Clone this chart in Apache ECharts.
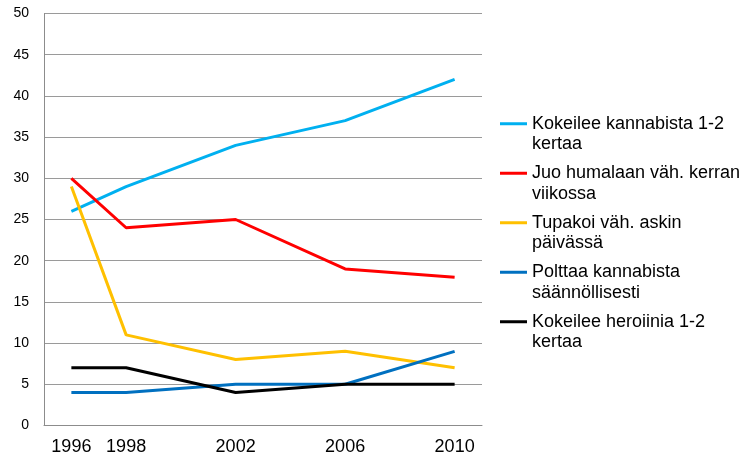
<!DOCTYPE html>
<html>
<head>
<meta charset="utf-8">
<script src="https://cdn.jsdelivr.net/npm/echarts@6/dist/echarts.min.js"></script>
<style>
  html, body { margin: 0; padding: 0; background: #fff; }
  #chart { width: 750px; height: 461px; }
</style>
</head>
<body>
<div id="chart"></div>
<script>
const years = [1996, 1998, 2002, 2006, 2010]
const seriesNames = [
  'Kokeilee kannabista 1-2 kertaa',
  'Juo humalaan väh. kerran viikossa',
  'Tupakoi väh. askin päivässä',
  'Polttaa kannabista säännöllisesti',
  'Kokeilee heroiinia 1-2 kertaa'
]
// legend text as wrapped in the picture
const legendLines = [
  ['Kokeilee kannabista 1-2', 'kertaa'],
  ['Juo humalaan väh. kerran', 'viikossa'],
  ['Tupakoi väh. askin', 'päivässä'],
  ['Polttaa kannabista', 'säännöllisesti'],
  ['Kokeilee heroiinia 1-2', 'kertaa']
]
const cannabisTried = [26, 29, 34, 37, 42]
const drunkWeekly = [30, 24, 25, 19, 18]
const smokesPack = [29, 11, 8, 9, 7]
const cannabisRegular = [4, 4, 5, 5, 9]
const heroinTried = [7, 7, 4, 5, 5]
const colors = ['#00b0f0', '#ff0000', '#ffc000', '#0070c0', '#000000']

const values = [cannabisTried, drunkWeekly, smokesPack, cannabisRegular, heroinTried]
const font = 'Liberation Sans, Arial, Helvetica, sans-serif'

const chart = echarts.init(document.getElementById('chart'))

chart.setOption({
  animation: false,
  textStyle: { fontFamily: font },
  grid: {
    left: 44,
    right: 268,
    top: 13.5,
    bottom: 35.5,
    containLabel: false
  },
  legend: {
    orient: 'vertical',
    left: 500,
    top: 93,
    padding: 0,
    icon: 'rect',
    itemWidth: 27,
    itemHeight: 3,
    itemGap: -12,
    data: seriesNames,
    textStyle: {
      fontFamily: font,
      fontSize: 18,
      lineHeight: 20.5,
      color: '#000'
    },
    // blank first line keeps the icon level with the first text line
    formatter: name => '\n' + legendLines[seriesNames.indexOf(name)].join('\n')
  },
  xAxis: {
    type: 'value',
    min: 1995,
    max: 2011,
    interval: 1,
    axisLine: { show: true, lineStyle: { color: '#8c8c8c', width: 1 } },
    axisTick: { show: false },
    splitLine: { show: false },
    axisLabel: {
      fontSize: 18,
      color: '#000',
      margin: 13,
      formatter: v => (years.includes(v) ? String(v) : '')
    }
  },
  yAxis: {
    type: 'value',
    min: 0,
    max: 50,
    interval: 5,
    axisLine: { show: true, lineStyle: { color: '#8c8c8c', width: 1 } },
    axisTick: { show: false },
    splitLine: { show: true, lineStyle: { color: '#9a9a9a', width: 1 } },
    axisLabel: {
      fontSize: 14,
      color: '#000',
      margin: 15
    }
  },
  series: seriesNames.map((name, i) => ({
    name: name,
    type: 'line',
    symbol: 'none',
    color: colors[i],
    lineStyle: { width: 3, color: colors[i] },
    data: years.map((y, j) => [y, values[i][j]])
  }))
})
</script>
</body>
</html>
